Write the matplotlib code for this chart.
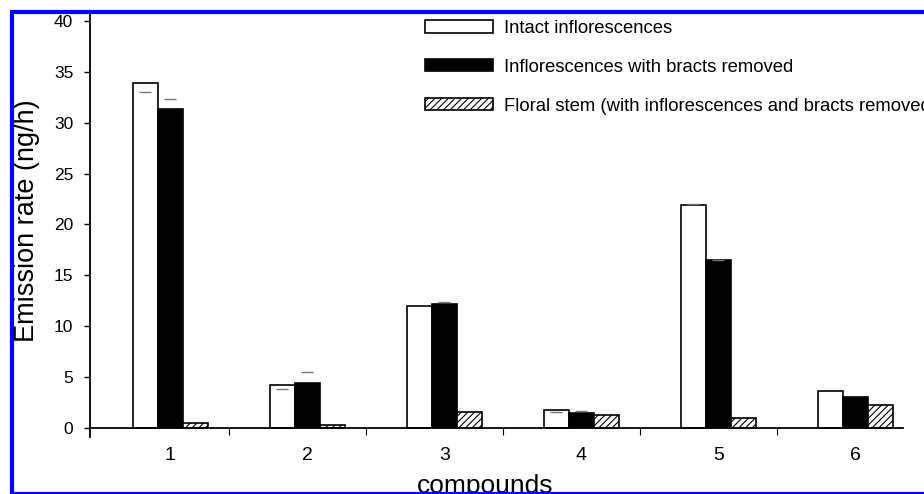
import numpy as np
import matplotlib.pyplot as plt
from matplotlib.patches import Rectangle

plt.rcParams['font.family'] = ['Liberation Sans', 'DejaVu Sans']
plt.rcParams['hatch.linewidth'] = 0.8

compounds = ['1', '2', '3', '4', '5', '6']
intact = [33.9, 4.2, 12.0, 1.77, 21.9, 3.67]
no_bracts = [31.4, 4.4, 12.2, 1.44, 16.5, 3.05]
floral_stem = [0.5, 0.3, 1.54, 1.28, 0.92, 2.23]
# short grey error marks (nan = none visible)
intact_err = [33.0, 3.8, np.nan, 1.6, 22.0, np.nan]
no_bracts_err = [32.3, 5.5, 12.35, 1.7, 16.55, np.nan]

labels = ['Intact inflorescences',
          'Inflorescences with bracts removed',
          'Floral stem (with inflorescences and bracts removed)']

W, H = 924, 494
fig = plt.figure(figsize=(W / 100, H / 100), dpi=100)
ax = fig.add_axes([90 / W, 57 / H, 813 / W, 424 / H])

x = np.arange(len(compounds))
w = 0.183
b1 = ax.bar(x - w, intact, w, color='white', edgecolor='black', linewidth=1.2, label=labels[0])
b2 = ax.bar(x, no_bracts, w, color='black', edgecolor='black', linewidth=1.2, label=labels[1])
b3 = ax.bar(x + w, floral_stem, w, color='white', edgecolor='black', linewidth=1.2,
            hatch='/////', label=labels[2])
ax.plot(x - w, intact_err, ls='none', marker='_', ms=8, mew=1, color='#777777')
ax.plot(x, no_bracts_err, ls='none', marker='_', ms=8, mew=1, color='#777777')

ax.set_xlim(-0.587, 5.347)
ax.set_ylim(-0.9, 40.8)
ax.spines['top'].set_visible(False)
ax.spines['right'].set_visible(False)
ax.spines['bottom'].set_position(('data', 0))
ax.spines['bottom'].set_linewidth(1.3)
ax.spines['left'].set_linewidth(1.3)

ax.set_yticks(np.arange(0, 41, 5))
ax.tick_params(axis='y', labelsize=12.5, length=4, width=1, pad=8)
ax.set_xticks(x)
ax.set_xticklabels(compounds)
ax.tick_params(axis='x', which='major', length=0, labelsize=14, pad=14)
ax.set_xticks(x[:-1] + 1 - 0.573, minor=True)
ax.tick_params(axis='x', which='minor', length=5, width=0.8, direction='out')

ax.set_ylabel('Emission rate (ng/h)', fontsize=19.5)
ax.yaxis.set_label_coords(-0.0615, 0.51)
ax.text(0.486, -0.132, 'compounds', transform=ax.transAxes,
        ha='center', va='baseline', fontsize=19)

ax.legend(handles=[b1, b2, b3], loc='upper left', frameon=False,
          bbox_to_anchor=(425 / W, 1 - 20 / H), bbox_transform=fig.transFigure,
          fontsize=13.3, handlelength=3.7, handleheight=0.65, handletextpad=0.55,
          labelspacing=1.18, borderpad=0, borderaxespad=0)

# blue frame round the picture
frame = Rectangle((12 / W, 0), 1.2, 1 - 12 / H, transform=fig.transFigure,
                  fill=False, edgecolor='#0000ff', linewidth=3, zorder=10, clip_on=False)
fig.patches.append(frame)

fig.savefig('out.png', dpi=100)
